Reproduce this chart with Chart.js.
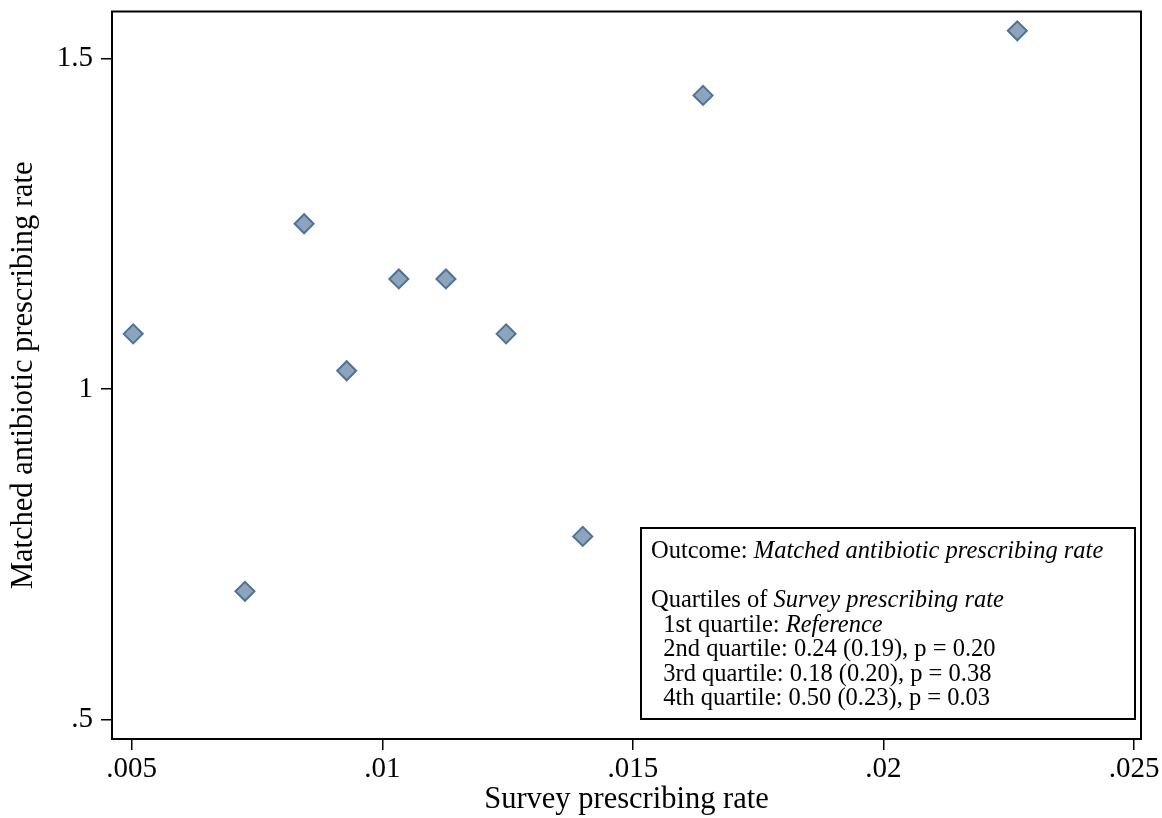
<!DOCTYPE html>
<html>
<head>
<meta charset="utf-8">
<script src="https://cdn.jsdelivr.net/npm/chart.js@4.4.0/dist/chart.umd.min.js"></script>
<style>
  html, body { margin: 0; padding: 0; background: #ffffff; }
  #wrap { width: 1162px; height: 818px; position: relative; }
</style>
</head>
<body>
<div id="wrap"><canvas id="c" width="1162" height="818"></canvas></div>
<script>
// ---- data ----
const surveyRate  = [0.00503, 0.00726, 0.00844, 0.00929, 0.01033, 0.01127, 0.01247, 0.01400, 0.01640, 0.02267];
const matchedRate = [1.0833, 0.6938, 1.2499, 1.0275, 1.1664, 1.1664, 1.0833, 0.7769, 1.4441, 1.5418];
const xTickValues = [0.005, 0.01, 0.015, 0.02, 0.025];
const xTickLabels = ['.005', '.01', '.015', '.02', '.025'];
const yTickValues = [0.5, 1, 1.5];
const yTickLabels = ['.5', '1', '1.5'];
const xTitle = 'Survey prescribing rate';
const yTitle = 'Matched antibiotic prescribing rate';
const noteLines = [
  [['Outcome: ', false], ['Matched antibiotic prescribing rate', true]],
  [],
  [['Quartiles of ', false], ['Survey prescribing rate', true]],
  [['  1st quartile: ', false], ['Reference', true]],
  [['  2nd quartile: 0.24 (0.19), p = 0.20', false]],
  [['  3rd quartile: 0.18 (0.20), p = 0.38', false]],
  [['  4th quartile: 0.50 (0.23), p = 0.03', false]]
];

const FONT = '"Liberation Serif", "Times New Roman", serif';
const points = surveyRate.map((x, i) => ({ x: x, y: matchedRate[i] }));

const framePlugin = {
  id: 'frame',
  afterDraw(chart) {
    const ctx = chart.ctx, a = chart.chartArea;
    ctx.save();
    ctx.strokeStyle = '#000';
    ctx.lineWidth = 2;
    ctx.strokeRect(a.left, a.top, a.right - a.left, a.bottom - a.top);
    // note box
    const bx = 641, by = 528, bw = 494, bh = 191;
    ctx.fillStyle = '#fff';
    ctx.fillRect(bx, by, bw, bh);
    ctx.strokeRect(bx, by, bw, bh);
    ctx.fillStyle = '#000';
    ctx.textBaseline = 'alphabetic';
    ctx.textAlign = 'left';
    const lineH = 24.5;
    let y = 558;
    noteLines.forEach(line => {
      let x = 651;
      line.forEach(([txt, it]) => {
        ctx.font = (it ? 'italic ' : '') + '24.5px ' + FONT;
        ctx.fillText(txt, x, y);
        x += ctx.measureText(txt).width;
      });
      y += lineH;
    });
    ctx.restore();
  }
};

new Chart(document.getElementById('c'), {
  type: 'scatter',
  data: {
    datasets: [{
      data: points,
      pointStyle: 'rectRot',
      pointRadius: 9.5,
      pointHoverRadius: 9.5,
      backgroundColor: '#8ca4bc',
      borderColor: '#4f7296',
      borderWidth: 2
    }]
  },
  options: {
    responsive: false,
    animation: false,
    devicePixelRatio: 1,
    layout: { padding: { top: 10, right: 21, left: 0, bottom: 0 } },
    plugins: { legend: { display: false }, tooltip: { enabled: false } },
    scales: {
      x: {
        type: 'linear',
        min: 0.004607,
        max: 0.025138,
        afterBuildTicks(scale) { scale.ticks = xTickValues.map(v => ({ value: v })); },
        afterFit(scale) { scale.height = 79; scale.paddingLeft = 0; scale.paddingRight = 0; },
        ticks: {
          callback(v) { const i = xTickValues.findIndex(t => Math.abs(t - v) < 1e-9); return i >= 0 ? xTickLabels[i] : ''; },
          color: '#000',
          font: { family: FONT, size: 29 },
          padding: 2,
          maxRotation: 0,
          autoSkip: false
        },
        grid: { display: true, drawOnChartArea: false, drawTicks: true, tickLength: 11, color: '#000', lineWidth: 1.5 },
        border: { display: false },
        title: { display: true, text: xTitle, color: '#000', font: { family: FONT, size: 30.5 }, padding: { top: 0, bottom: 0 } }
      },
      y: {
        type: 'linear',
        min: 0.4704,
        max: 1.571,
        afterBuildTicks(scale) { scale.ticks = yTickValues.map(v => ({ value: v })); },
        afterFit(scale) { scale.width = 112; scale.paddingTop = 0; scale.paddingBottom = 0; },
        ticks: {
          callback(v) { const i = yTickValues.findIndex(t => Math.abs(t - v) < 1e-9); return i >= 0 ? yTickLabels[i] : ''; },
          color: '#000',
          font: { family: FONT, size: 29 },
          padding: 8,
          autoSkip: false
        },
        grid: { display: true, drawOnChartArea: false, drawTicks: true, tickLength: 11, color: '#000', lineWidth: 1.5 },
        border: { display: false },
        title: { display: true, text: yTitle, color: '#000', font: { family: FONT, size: 30.5 }, padding: { top: 6, bottom: 0 } }
      }
    }
  },
  plugins: [framePlugin]
});
</script>
</body>
</html>
